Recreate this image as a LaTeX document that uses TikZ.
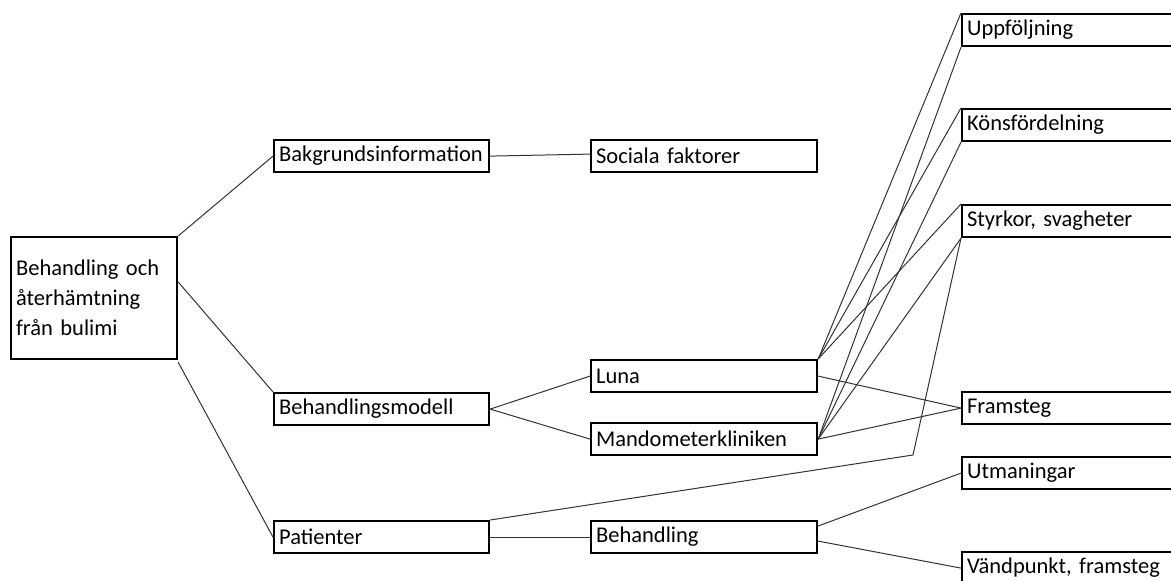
\documentclass[tikz,border=0pt]{standalone}
\usepackage{fontspec}
\setmainfont{Carlito}
\begin{document}
\begin{tikzpicture}[x=1pt,y=-1pt,
    box/.style={draw,line width=2.2pt,anchor=north west,align=left,
        text width=#1-12pt,minimum height=32pt,inner xsep=5pt,inner ysep=0pt,
        font=\fontsize{22.5}{30}\selectfont},
    box/.default=217pt,
    link/.style={line width=1pt,black!80}]
    \useasboundingbox (0,0) rectangle (1171,581);
    \clip (0,0) rectangle (1171,581);

    \node[box=168pt,minimum height=122pt] (root) at (10,236) {Behandling och\\återhämtning\\från bulimi};

    \node[box] (bakgr) at (273,139) {Bakgrundsinformation};
    \node[box] (modell) at (273,392) {Behandlingsmodell};
    \node[box] (pat) at (273,520) {Patienter};

    \node[box=228pt] (soc) at (590,139) {Sociala faktorer};
    \node[box=228pt] (luna) at (590,359) {Luna};
    \node[box=228pt] (mando) at (590,422) {Mandometerkliniken};
    \node[box=228pt] (beh) at (590,520) {Behandling};

    \node[box=240pt] (uppf) at (961,13) {Uppföljning};
    \node[box=240pt] (kons) at (961,108) {Könsfördelning};
    \node[box=240pt] (styrk) at (961,204) {Styrkor, svagheter};
    \node[box=240pt] (fram) at (961,391) {Framsteg};
    \node[box=240pt] (utm) at (961,456) {Utmaningar};
    \node[box=240pt] (vand) at (961,551) {Vändpunkt, framsteg};

    \coordinate (knee) at (913,455);

    \draw[link] (root.north east) -- (bakgr.west);
    \draw[link] ([yshift=-46pt]root.north east) -- (modell.north west);
    \draw[link] ([yshift=-2pt]root.south east) -- (pat.west);
    \draw[link] (bakgr.east) -- ([yshift=2pt]soc.west);
    \draw[link] (modell.east) -- (luna.west);
    \draw[link] (modell.east) -- (mando.west);
    \draw[link] (pat.east) -- (beh.west);

    \draw[link] (luna.north east) -- (uppf.north west);
    \draw[link] (luna.north east) -- (kons.north west);
    \draw[link] (luna.north east) -- (styrk.north west);
    \draw[link] (luna.east) -- (fram.west);
    \draw[link] (mando.east) -- (uppf.south west);
    \draw[link] (mando.east) -- (kons.south west);
    \draw[link] (mando.east) -- (styrk.south west);
    \draw[link] (mando.east) -- (fram.west);
    \draw[link] (pat.north east) -- (knee) -- (styrk.south west);
    \draw[link] ([yshift=-6pt]beh.north east) -- (utm.west);
    \draw[link] ([yshift=-4pt]beh.east) -- (vand.west);
\end{tikzpicture}
\end{document}
